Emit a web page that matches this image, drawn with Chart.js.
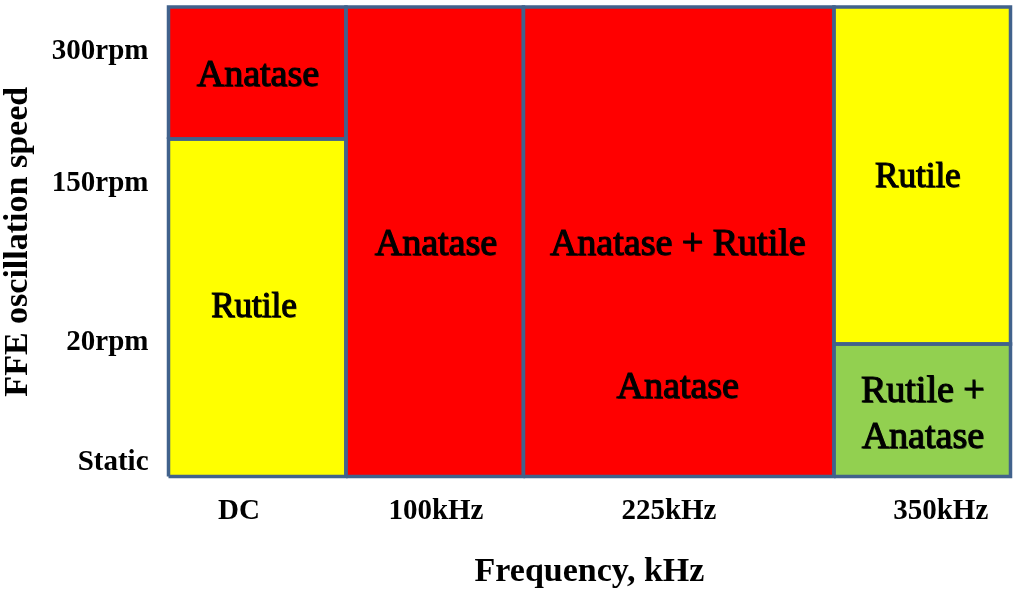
<!DOCTYPE html>
<html>
<head>
<meta charset="utf-8">
<script src="https://cdn.jsdelivr.net/npm/chart.js@4/dist/chart.umd.min.js"></script>
<style>
  html, body { margin: 0; padding: 0; background: #ffffff; }
  #wrap { width: 1024px; height: 604px; }
</style>
</head>
<body>
<div id="wrap"><canvas id="c" width="1024" height="604"></canvas></div>
<script>
// ---- data ----
const freqLabels = ['DC', '100kHz', '225kHz', '350kHz'];
const freqTickPos = [0.397, 1.507, 2.82, 4.352];
const speedLabels = ['Static', '20rpm', '150rpm', '300rpm'];
const speedTickPos = [13.5, 133.5, 292.5, 424.5];
const xMax = 4.745;
const yMax = 469.5;

// regions (phase fields)
const regionX0 = [0, 0, 1, 2, 3.75, 3.75];
const regionX1 = [1, 1, 2, 3.75, 4.745, 4.745];
const regionY0 = [337.5, 0, 0, 0, 132.5, 0];
const regionY1 = [469.5, 337.5, 469.5, 469.5, 469.5, 132.5];
const regionPhase = ['A', 'R', 'A', 'A', 'R', 'M'];

// phase labels
const labelText = ['Anatase', 'Rutile', 'Anatase', 'Anatase + Rutile', 'Anatase', 'Rutile', 'Rutile +', 'Anatase'];
const labelX = [0.504, 0.482, 1.507, 2.87, 2.87, 4.223, 4.251, 4.251];
const labelY = [390.5, 159.5, 221.5, 221.5, 78.5, 289.5, 74.5, 28.5];
const labelSize = [38, 35, 38, 38, 38, 35, 38, 38];

// ---- styles ----
const phaseColor = { A: '#FF0000', R: '#FFFF00', M: '#92D050' };
const edgeColor = '#41628C';
const serif = "'Liberation Serif', 'Times New Roman', serif";

const datasets = [];
regionX0.forEach((x0, i) => {
  datasets.push({
    data: [{ x: x0, y: regionY1[i] }, { x: regionX1[i], y: regionY1[i] }],
    backgroundColor: phaseColor[regionPhase[i]],
    borderWidth: 0,
    pointRadius: 0,
    fill: { value: regionY0[i] },
    order: 2
  });
});
regionX0.forEach((x0, i) => {
  const x1 = regionX1[i], y0 = regionY0[i], y1 = regionY1[i];
  datasets.push({
    data: [{ x: x0, y: y0 }, { x: x1, y: y0 }, { x: x1, y: y1 }, { x: x0, y: y1 }, { x: x0, y: y0 }],
    borderColor: edgeColor,
    borderWidth: 3.5,
    borderJoinStyle: 'miter',
    pointRadius: 0,
    fill: false,
    clip: false,
    order: 1
  });
});

const phaseLabels = {
  id: 'phaseLabels',
  afterDatasetsDraw(chart) {
    const { ctx } = chart;
    const xs = chart.scales.x, ys = chart.scales.y;
    ctx.save();
    ctx.textAlign = 'center';
    ctx.textBaseline = 'alphabetic';
    ctx.fillStyle = '#000';
    labelText.forEach((t, i) => {
      ctx.font = labelSize[i] + 'px ' + serif;
      const px = xs.getPixelForValue(labelX[i]);
      const py = ys.getPixelForValue(labelY[i]);
      ctx.shadowColor = 'rgba(0,0,0,0.5)';
      ctx.shadowOffsetX = 1;
      ctx.shadowOffsetY = 1;
      ctx.shadowBlur = 0.5;
      ctx.fillText(t, px, py);
      ctx.shadowColor = 'transparent';
      ctx.lineWidth = 1.1;
      ctx.strokeStyle = '#000';
      ctx.strokeText(t, px, py);
    });
    ctx.restore();
  }
};

new Chart(document.getElementById('c'), {
  type: 'line',
  data: { datasets },
  plugins: [phaseLabels],
  options: {
    responsive: false,
    animation: false,
    events: [],
    layout: { autoPadding: false, padding: { top: 7, right: 13.5, left: 0, bottom: 0 } },
    plugins: { legend: { display: false }, tooltip: { enabled: false } },
    scales: {
      x: {
        type: 'linear',
        min: 0,
        max: xMax,
        grid: { display: false, drawTicks: false },
        border: { display: false },
        afterBuildTicks: (s) => { s.ticks = freqTickPos.map(v => ({ value: v })); },
        afterFit: (s) => { s.height = 127.5; s.paddingLeft = 0; s.paddingRight = 0; s.paddingTop = 0; s.paddingBottom = 0; },
        ticks: {
          autoSkip: false,
          maxRotation: 0,
          padding: 17.5,
          color: '#000',
          font: { family: serif, size: 29, weight: 'bold' },
          callback: (v, i) => freqLabels[i]
        },
        title: {
          display: true,
          text: 'Frequency, kHz',
          color: '#000',
          font: { family: serif, size: 34, weight: 'bold', lineHeight: 1.2 },
          padding: { top: 0, bottom: 11.6 }
        }
      },
      y: {
        type: 'linear',
        min: 0,
        max: yMax,
        grid: { display: false, drawTicks: false },
        border: { display: false },
        afterBuildTicks: (s) => { s.ticks = speedTickPos.map(v => ({ value: v })); },
        afterFit: (s) => { s.width = 168.5; s.paddingLeft = 0; s.paddingRight = 0; s.paddingTop = 0; s.paddingBottom = 0; },
        ticks: {
          autoSkip: false,
          padding: 20,
          color: '#000',
          font: { family: serif, size: 29, weight: 'bold' },
          callback: (v, i) => speedLabels[i]
        },
        title: {
          display: true,
          text: 'FFE oscillation speed',
          color: '#000',
          font: { family: serif, size: 34, weight: 'bold', lineHeight: 1.0 },
          padding: { top: 1, bottom: 0 }
        }
      }
    }
  }
});
</script>
</body>
</html>
